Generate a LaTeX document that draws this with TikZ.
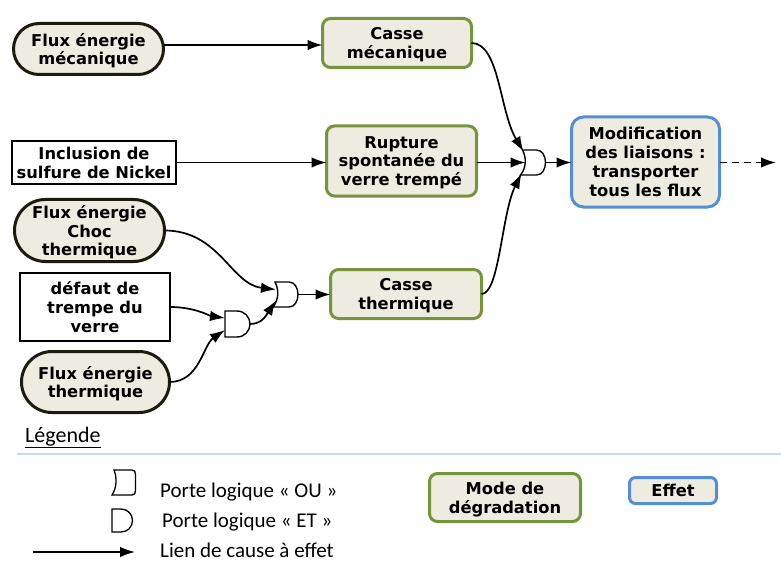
\documentclass[tikz,border=0pt]{standalone}
\usepackage{fontspec}
\setmainfont{DejaVu Sans}
\newfontfamily\legfont{Carlito}
\usetikzlibrary{arrows.meta,shapes.misc,calc}
\definecolor{beige}{HTML}{EEECE1}
\definecolor{greenb}{HTML}{77933C}
\definecolor{blueb}{HTML}{558ED5}
\definecolor{darkb}{HTML}{1D1B10}
\definecolor{legline}{HTML}{C6D9F1}
\newcommand\drawor[1]{\draw[gateline] ($(#1)+(-11,-12.5)$) -- ($(#1)+(3,-12.5)$) .. controls ($(#1)+(9,-12.5)$) and ($(#1)+(12,-6)$) .. ($(#1)+(12,0)$) .. controls ($(#1)+(12,6)$) and ($(#1)+(9,12.5)$) .. ($(#1)+(3,12.5)$) -- ($(#1)+(-13,12.5)$) .. controls ($(#1)+(-7,5)$) and ($(#1)+(-7,-5)$) .. ($(#1)+(-11,-12.5)$) -- cycle;}
\newcommand\drawand[1]{\draw[gateline] ($(#1)+(-12,-13)$) -- ($(#1)+(0,-13)$) .. controls ($(#1)+(7.5,-13)$) and ($(#1)+(13,-7)$) .. ($(#1)+(13,0)$) .. controls ($(#1)+(13,7)$) and ($(#1)+(7.5,13)$) .. ($(#1)+(0,13)$) -- ($(#1)+(-12,13)$) -- cycle;}
\begin{document}
\begin{tikzpicture}[x=1bp,y=-1bp,
 base/.style={align=center,font=\fontsize{16.3bp}{18.8bp}\selectfont\bfseries,inner sep=0pt,outer sep=0pt,text depth=0pt},
 stad/.style={base,rounded rectangle,draw=darkb,line width=3bp,fill=beige},
 modebox/.style={base,rectangle,rounded corners=8bp,draw=greenb,line width=3bp,fill=beige},
 effbox/.style={base,rectangle,rounded corners=12bp,draw=blueb,line width=3bp,fill=beige},
 plainbox/.style={base,rectangle,draw=black,line width=1.6bp,fill=white},
 gate/.style={inner sep=0pt,outer sep=0pt,minimum width=25bp,minimum height=25bp},
 gateline/.style={draw=black,line width=1.4bp,fill=white},
 arr/.style={-{Latex[length=15bp,width=10.5bp]},line width=1.7bp},
 legtext/.style={font=\legfont\fontsize{21bp}{24bp}\selectfont,inner sep=0pt,anchor=base west},
]
\useasboundingbox (0,0) rectangle (781,564);
% nodes
\node[stad,minimum width=150bp,minimum height=51bp] (fm) at (88.5,49) {Flux énergie\\mécanique};
\node[modebox,minimum width=149bp,minimum height=49bp] (cm) at (397,43) {Casse\\mécanique};
\node[plainbox,minimum width=164bp,minimum height=43bp] (inc) at (94,162.5) {Inclusion de\\sulfure de Nickel};
\node[modebox,minimum width=150bp,minimum height=70bp] (rup) at (401.5,161) {Rupture\\spontanée du\\verre trempé};
\node[effbox,minimum width=148bp,minimum height=90bp] (mod) at (645.5,162) {Modification\\des liaisons :\\transporter\\tous les flux};
\node[stad,minimum width=150bp,minimum height=62bp] (choc) at (89.5,230.5) {Flux énergie\\Choc\\thermique};
\node[plainbox,minimum width=150bp,minimum height=68bp] (def) at (95,307) {défaut de\\trempe du\\verre};
\node[stad,minimum width=148bp,minimum height=61bp] (ft) at (95.5,382) {Flux énergie\\thermique};
\node[modebox,minimum width=151bp,minimum height=49bp] (ct) at (406,294) {Casse\\thermique};
% gates
\node[gate] (or1) at (533.5,162.5) {};
\node[gate] (and1) at (237,324) {};
\node[gate] (or2) at (286,294.5) {};
\drawor{or1}
\drawand{and1}
\drawor{or2}
% connectors
\coordinate (fmout) at (165,45);
\draw[arr] (fm.east |- fmout) -- (cm.west |- fmout);
\draw[arr] (cm.east) .. controls +(28,0) and +(-24,-40) .. ($(or1)+(-10,-11)$);
\draw[arr] (inc.east) -- (rup.west |- inc.east);
\draw[arr] (rup.east |- or1) -- ($(or1)+(-8,0)$);
\draw[arr] (ct.east) .. controls +(18,0) and +(-20,40) .. ($(or1)+(-12,11)$);
\draw[arr] ($(or1)+(12,0)$) -- (mod.west |- or1);
\coordinate (dend) at (776,162.5);
\draw[arr,dashed,dash pattern=on 7bp off 5bp] (mod.east |- dend) -- (dend);
\draw[arr] (choc.east) .. controls +(55,0) and +(-45,-5) .. ($(or2)+(-10,-5)$);
\draw[arr] (def.east) .. controls +(25,0) and +(-15,-2) .. ($(and1)+(-12,-6)$);
\draw[arr] (ft.east) .. controls +(30,0) and +(-22,15) .. ($(and1)+(-12,6)$);
\draw[arr] ($(and1)+(13,0)$) .. controls +(12,0) and +(-10,15) .. ($(or2)+(-10,6)$);
\draw[arr] ($(or2)+(12,0)$) -- (ct.west |- or2);
% legend
\node[legtext,font=\legfont\fontsize{22bp}{24bp}\selectfont] (leg) at (25,442) {\underline{Légende}};
\coordinate (ll1) at (17,454);
\coordinate (ll2) at (781,454);
\draw[legline,line width=1.5bp] (ll1) -- (ll2);
\node[gate,minimum width=24bp,minimum height=25bp] (lor) at (124,482.5) {};
\draw[gateline,line width=1.3bp] ($(lor)+(-10,-12.5)$) -- ($(lor)+(8,-12.5)$) .. controls ($(lor)+(10.5,-12.5)$) and ($(lor)+(11.5,-11)$) .. ($(lor)+(11.5,-8)$) -- ($(lor)+(11.5,8)$) .. controls ($(lor)+(11.5,11)$) and ($(lor)+(10.5,12.5)$) .. ($(lor)+(8,12.5)$) -- ($(lor)+(-12,12.5)$) .. controls ($(lor)+(-7,5)$) and ($(lor)+(-7,-5)$) .. ($(lor)+(-10,-12.5)$) -- cycle;
\node[gate,minimum width=21bp,minimum height=23bp] (land) at (122,520.5) {};
\draw[gateline,line width=1.3bp] ($(land)+(-10,-11.5)$) -- ($(land)+(-1,-11.5)$) .. controls ($(land)+(6,-11.5)$) and ($(land)+(10.5,-6)$) .. ($(land)+(10.5,0)$) .. controls ($(land)+(10.5,6)$) and ($(land)+(6,11.5)$) .. ($(land)+(-1,11.5)$) -- ($(land)+(-10,11.5)$) -- cycle;
\coordinate (la1) at (33,552);
\coordinate (la2) at (135,552);
\draw[arr,line width=1.5bp] (la1) -- (la2);
\node[legtext] (lt1) at (160,497) {Porte logique « OU »};
\node[legtext] (lt2) at (162,527) {Porte logique « ET »};
\node[legtext] (lt3) at (160,557) {Lien de cause à effet};
\node[modebox,minimum width=151bp,minimum height=48bp] (lmode) at (505,497.5) {Mode de\\dégradation};
\node[effbox,rounded corners=6bp,minimum width=87bp,minimum height=26bp] (leff) at (673,490.5) {Effet};
\end{tikzpicture}
\end{document}
